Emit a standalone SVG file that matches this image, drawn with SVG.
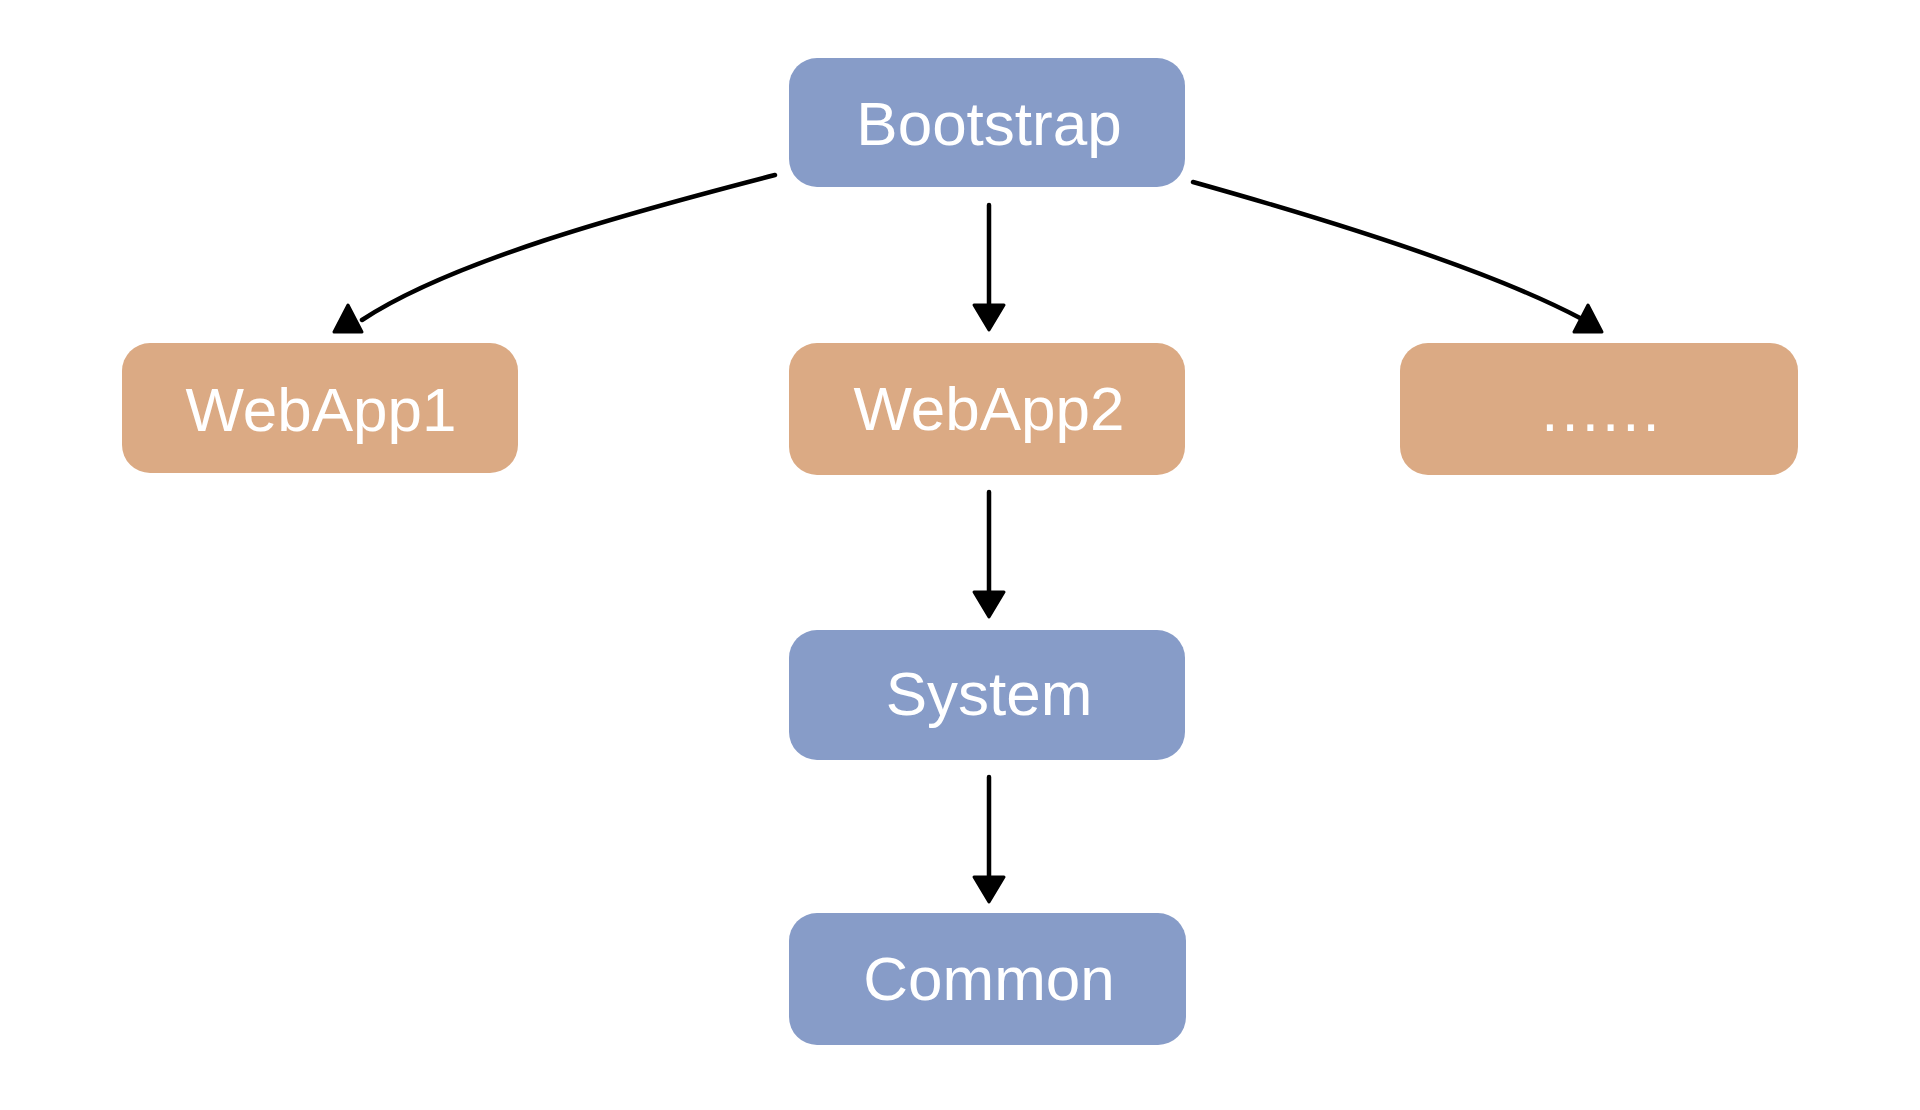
<svg xmlns="http://www.w3.org/2000/svg" xmlns:xlink="http://www.w3.org/1999/xlink" width="1920" height="1110" viewBox="0 0 1920 1110">
  <style>
    .blue { fill: #879CC8; }
    .orange { fill: #DBAA84; }
    .edge { fill: none; stroke: #ffffff; stroke-width: 2; stroke-opacity: 0.5; stroke-dasharray: 14 5 3 6; }
    .label { font-family: "Liberation Sans", Arial, Helvetica, sans-serif; font-size: 62px; fill: #ffffff; text-anchor: middle; }
    .conn { fill: none; stroke: #000000; stroke-width: 4.5; stroke-linecap: round; }
    .head { fill: #000000; stroke: #000000; stroke-width: 3; stroke-linejoin: round; }
  </style>
  <defs>
    <path id="headDown" d="M-15,-25 L15,-25 L0,0 Z"/>
    <path id="headUp" d="M0,0 L14,27 L-14,27 Z"/>
  </defs>
  <rect width="1920" height="1110" fill="#ffffff"/>

  <g id="connectors">
    <path class="conn" d="M775,175 C620,215 450,262 362,320"/>
    <use class="head" xlink:href="#headUp" x="348" y="305"/>
    <path class="conn" d="M989,205 L989,312"/>
    <use class="head" xlink:href="#headDown" x="989" y="330"/>
    <path class="conn" d="M1193,182 C1300,212 1480,265 1580,318"/>
    <use class="head" xlink:href="#headUp" x="1588" y="305"/>
    <path class="conn" d="M989,492 L989,599"/>
    <use class="head" xlink:href="#headDown" x="989" y="617"/>
    <path class="conn" d="M989,777 L989,884"/>
    <use class="head" xlink:href="#headDown" x="989" y="902"/>
  </g>

  <g id="node-bootstrap">
    <rect class="blue" x="789" y="58" width="396" height="129" rx="28"/>
    <text class="label" x="989" y="145">Bootstrap</text>
  </g>
  <g id="node-webapp1">
    <rect class="orange" x="122" y="343" width="396" height="130" rx="28"/>
    <text class="label" x="321" y="431">WebApp1</text>
  </g>
  <g id="node-webapp2">
    <rect class="orange" x="789" y="343" width="396" height="132" rx="28"/>
    <text class="label" x="989" y="430">WebApp2</text>
  </g>
  <g id="node-more">
    <rect class="orange" x="1400" y="343" width="398" height="132" rx="28"/>
    <text class="label" x="1602" y="431" letter-spacing="3">......</text>
  </g>
  <g id="node-system">
    <rect class="blue" x="789" y="630" width="396" height="130" rx="28"/>
    <text class="label" x="989" y="715">System</text>
  </g>
  <g id="node-common">
    <rect class="blue" x="789" y="913" width="397" height="132" rx="28"/>
    <text class="label" x="989" y="1000">Common</text>
  </g>
</svg>
